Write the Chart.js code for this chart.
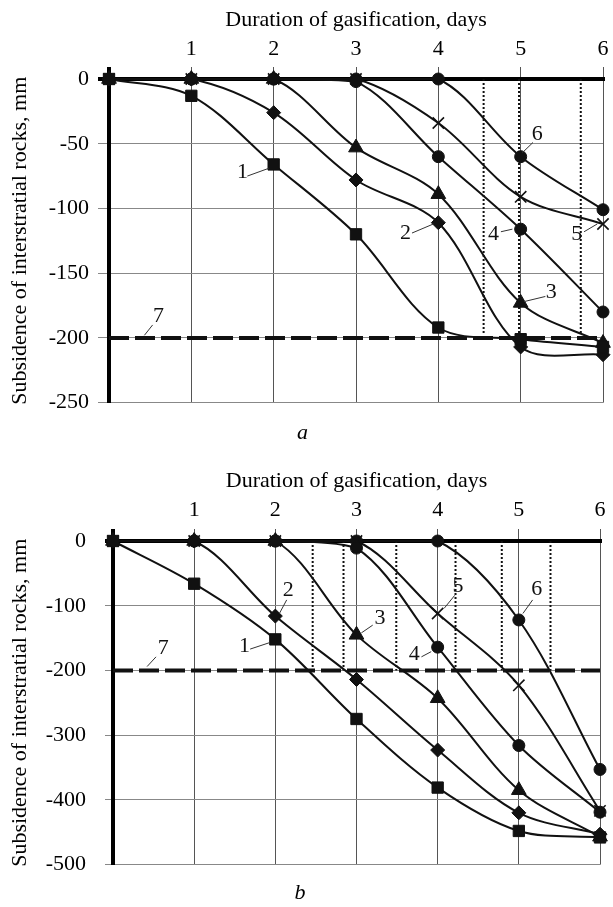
<!DOCTYPE html>
<html>
<head>
<meta charset="utf-8">
<script src="https://cdn.jsdelivr.net/npm/chart.js@4.4.1/dist/chart.umd.min.js"></script>
<style>
  html, body { margin: 0; padding: 0; background: #fff; }
  .panel { position: absolute; left: 0; width: 613px; }
  #panelA { top: 0; height: 450px; }
  #panelB { top: 455px; height: 452px; }
</style>
</head>
<body>
<div class="panel" id="panelA"><canvas id="chartA"></canvas></div>
<div class="panel" id="panelB"><canvas id="chartB"></canvas></div>
<script>
const days = [0, 1, 2, 3, 4, 5, 6];
const dayLabels = ['', '1', '2', '3', '4', '5', '6'];
const xTitle = 'Duration of gasification, days';
const yTitle = 'Subsidence of interstratial rocks, mm';

// panel a, curves 1..6 (mm)
const a1 = [0, -13, -66, -120, -192, -201, -207];
const a2 = [0, 0, -26, -78, -111, -207, -213];
const a3 = [0, 0, 0, -53, -89, -173, -204];
const a4 = [0, 0, 0, -2, -60, -116, -180];
const a5 = [0, 0, 0, 0, -34, -91, -112];
const a6 = [0, 0, 0, 0, 0, -60, -101];
const levelA = -200;            // line 7
const dotsA = [4.55, 4.98, 5.73];
const dotsAEnd = -197;
// tag text, text x/y, leader from x/y, leader to x/y (data units)
const tagsA = [
    ['1', 1.62, -72, 1.68, -75, 1.94, -69],
    ['2', 3.60, -119, 3.68, -119, 3.94, -112],
    ['3', 5.37, -165, 5.30, -168, 5.04, -172],
    ['4', 4.67, -120, 4.76, -118, 4.90, -116],
    ['5', 5.68, -120, 5.77, -118, 5.93, -112],
    ['6', 5.20, -43, 5.15, -49, 5.02, -57],
    ['7', 0.60, -183, 0.53, -190, 0.43, -198]
];

// panel b, curves 1..6 (mm)
const b1 = [0, -66, -152, -275, -381, -448, -458];
const b2 = [0, 0, -116, -214, -323, -420, -453];
const b3 = [0, 0, 0, -145, -243, -385, -457];
const b4 = [0, 0, 0, -11, -164, -316, -419];
const b5 = [0, 0, 0, 0, -112, -223, -417];
const b6 = [0, 0, 0, 0, 0, -122, -353];
const levelB = -200;
const dotsB = [2.46, 2.84, 3.49, 4.22, 4.79, 5.39];
const dotsBEnd = -200;
const tagsB = [
    ['1', 1.62, -163, 1.69, -167, 1.93, -157],
    ['2', 2.16, -76, 2.14, -91, 2.05, -112],
    ['3', 3.29, -120, 3.20, -130, 3.06, -142],
    ['4', 3.71, -175, 3.80, -179, 3.92, -171],
    ['5', 4.25, -70, 4.21, -84, 4.08, -104],
    ['6', 5.22, -74, 5.17, -91, 5.05, -112],
    ['7', 0.62, -165, 0.53, -179, 0.42, -194]
];

const markers = ['rect', 'rectRot', 'triangle', 'circle', 'crossRot', 'circle'];
const markerSize = [8, 7, 8.5, 6, 8, 6];
const serif = '"Liberation Serif", "Times New Roman", serif';
const font = { family: serif, size: 22 };

const tagPlugin = {
    id: 'tags',
    afterDatasetsDraw(chart, args, opts) {
        const { ctx, scales: { x, y } } = chart;
        ctx.save();
        ctx.font = '22px ' + serif;
        ctx.fillStyle = '#111';
        ctx.textAlign = 'center';
        ctx.textBaseline = 'middle';
        ctx.strokeStyle = '#333';
        ctx.lineWidth = 1;
        opts.items.forEach(t => {
            ctx.beginPath();
            ctx.moveTo(x.getPixelForValue(t[3]), y.getPixelForValue(t[4]));
            ctx.lineTo(x.getPixelForValue(t[5]), y.getPixelForValue(t[6]));
            ctx.stroke();
            ctx.fillText(t[0], x.getPixelForValue(t[1]), y.getPixelForValue(t[2]));
        });
        ctx.restore();
    }
};

function makeChart(id, cfg) {
    const curves = cfg.series.map((vals, i) => ({
        data: days.map((d, k) => ({ x: d, y: vals[k] })),
        borderColor: '#111',
        backgroundColor: '#111',
        borderWidth: 2,
        pointStyle: markers[i],
        pointRadius: markerSize[i],
        pointBorderWidth: i === 4 ? 1.6 : 1,
        tension: 0.33,
        clip: false
    }));
    const dotted = cfg.dots.map(d => ({
        data: [{ x: d, y: 0 }, { x: d, y: cfg.dotsEnd }],
        borderColor: '#111', borderWidth: 2, borderDash: [2, 2], pointRadius: 0
    }));
    const level = {
        data: [{ x: 0, y: cfg.level }, { x: 6, y: cfg.level }],
        borderColor: '#111', borderWidth: 4, borderDash: [20, 6], pointRadius: 0, clip: false
    };
    const isZero = c => c.tick && c.tick.value === 0;

    return new Chart(document.getElementById(id).getContext('2d'), {
        type: 'line',
        data: { datasets: [...curves, level, ...dotted] },
        options: {
            responsive: true,
            maintainAspectRatio: false,
            animation: false,
            layout: { padding: { left: 0, right: cfg.right, top: 0, bottom: 0 } },
            scales: {
                x: {
                    type: 'linear', position: 'top', min: 0, max: 6,
                    ticks: { stepSize: 1, callback: v => dayLabels[v] ?? '', padding: cfg.xTickPad, color: '#000', font },
                    grid: { color: c => isZero(c) ? '#000' : '#555', lineWidth: c => isZero(c) ? 4 : 1, tickLength: 12 },
                    border: { display: true, color: '#000', width: 4 },
                    title: { display: true, text: xTitle, color: '#000', font, padding: { top: cfg.xTitlePad, bottom: 0 } },
                    afterFit: s => { s.height = cfg.top; }
                },
                y: {
                    min: cfg.yMin, max: 0,
                    ticks: { stepSize: cfg.yStep, padding: cfg.yTickPad, color: '#000', font },
                    grid: { color: c => isZero(c) ? '#000' : '#888', lineWidth: c => isZero(c) ? 4 : 1, tickLength: cfg.yTickLen },
                    border: { display: true, color: '#000', width: 4 },
                    title: { display: true, text: yTitle, color: '#000', font, padding: { top: 7, bottom: 0 } },
                    afterFit: s => { s.width = cfg.left; }
                }
            },
            plugins: {
                legend: { display: false },
                tooltip: { enabled: false },
                title: {
                    display: true, position: 'bottom', text: cfg.caption, color: '#000',
                    font: { family: serif, size: 22, style: 'italic', weight: 'normal' },
                    padding: { top: cfg.capTop, bottom: cfg.capBottom }
                },
                tags: { items: cfg.tags }
            }
        },
        plugins: [tagPlugin]
    });
}

makeChart('chartA', {
    series: [a1, a2, a3, a4, a5, a6], level: levelA, dots: dotsA, dotsEnd: dotsAEnd, tags: tagsA,
    yMin: -250, yStep: 50, caption: 'a',
    left: 109, right: 8, top: 79, capTop: 17, capBottom: 4,
    xTickPad: 4.5, xTitlePad: 7, yTickPad: 9, yTickLen: 11
});

makeChart('chartB', {
    series: [b1, b2, b3, b4, b5, b6], level: levelB, dots: dotsB, dotsEnd: dotsBEnd, tags: tagsB,
    yMin: -500, yStep: 100, caption: 'b',
    left: 113, right: 13, top: 86, capTop: 15, capBottom: 1,
    xTickPad: 6, xTitlePad: 13.5, yTickPad: 19, yTickLen: 8
});
</script>
</body>
</html>
